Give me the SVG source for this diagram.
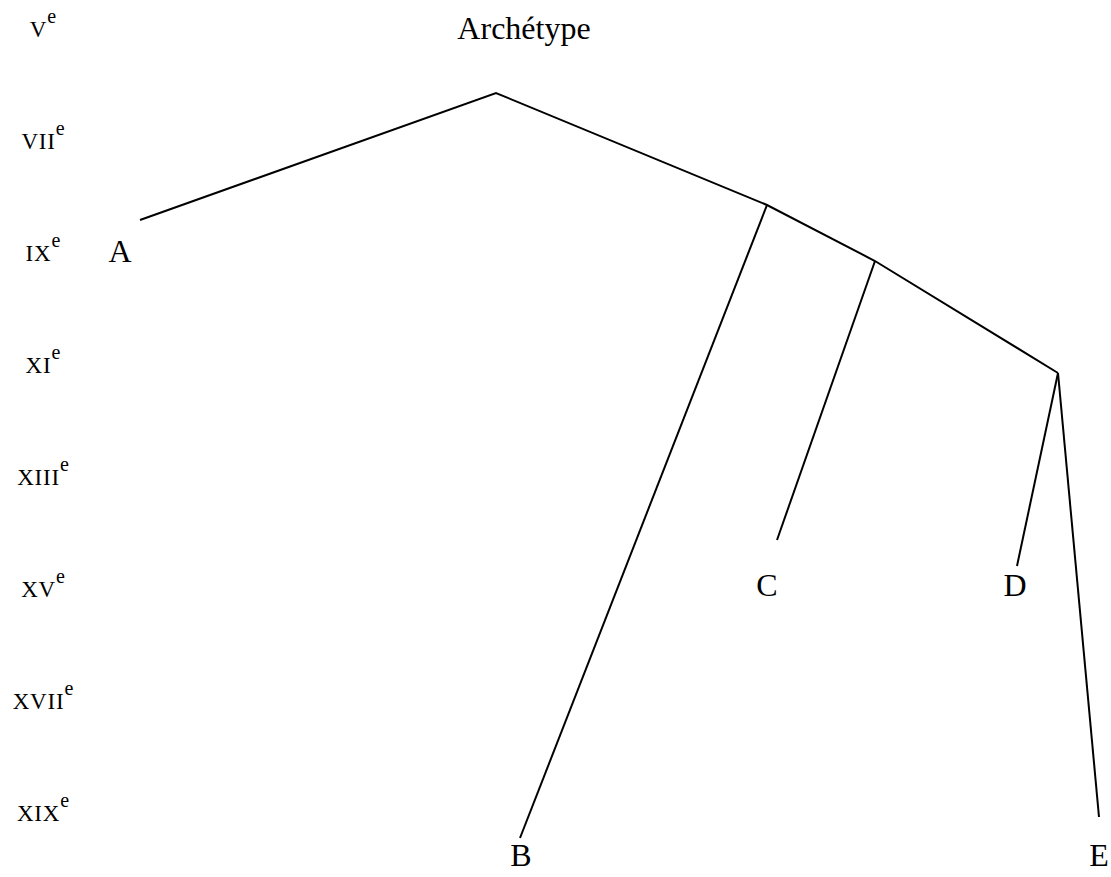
<svg xmlns="http://www.w3.org/2000/svg" width="1111" height="877" viewBox="0 0 1111 877">
<style>
text{font-family:"Liberation Serif","DejaVu Serif",serif;fill:#000}
.lbl{font-size:32px;text-anchor:middle}
.cent{font-size:33px;text-anchor:middle}
.sc{font-variant:small-caps;letter-spacing:0.8px}
.sup{font-size:20px}
.edge{stroke:#000;stroke-width:2;fill:none;stroke-linecap:butt;stroke-linejoin:miter}
</style>
<rect width="1111" height="877" fill="#fff"/>
<g id="centuries">
<text class="cent" x="43" y="37"><tspan class="sc">v</tspan><tspan class="sup" dy="-14">e</tspan></text>
<text class="cent" x="43" y="149"><tspan class="sc">vii</tspan><tspan class="sup" dy="-14">e</tspan></text>
<text class="cent" x="43" y="261"><tspan class="sc">ix</tspan><tspan class="sup" dy="-14">e</tspan></text>
<text class="cent" x="43" y="373"><tspan class="sc">xi</tspan><tspan class="sup" dy="-14">e</tspan></text>
<text class="cent" x="43" y="485"><tspan class="sc">xiii</tspan><tspan class="sup" dy="-14">e</tspan></text>
<text class="cent" x="43" y="597"><tspan class="sc">xv</tspan><tspan class="sup" dy="-14">e</tspan></text>
<text class="cent" x="43" y="709"><tspan class="sc">xvii</tspan><tspan class="sup" dy="-14">e</tspan></text>
<text class="cent" x="43" y="821"><tspan class="sc">xix</tspan><tspan class="sup" dy="-14">e</tspan></text>
</g>
<g id="connectors">
<polyline class="edge" points="140,220 496,93 767,205 875,261 1058,373"/>
<line class="edge" x1="767" y1="205" x2="520" y2="838"/>
<line class="edge" x1="875" y1="261" x2="777" y2="540"/>
<line class="edge" x1="1058" y1="373" x2="1017" y2="566"/>
<line class="edge" x1="1058" y1="373" x2="1099" y2="817"/>
</g>
<g id="node-archetype"><text class="lbl" x="524" y="39">Archétype</text></g>
<g id="node-A"><text class="lbl" x="120" y="262">A</text></g>
<g id="node-B"><text class="lbl" x="521" y="866">B</text></g>
<g id="node-C"><text class="lbl" x="767" y="596">C</text></g>
<g id="node-D"><text class="lbl" x="1015" y="596">D</text></g>
<g id="node-E"><text class="lbl" x="1099" y="866">E</text></g>
</svg>
